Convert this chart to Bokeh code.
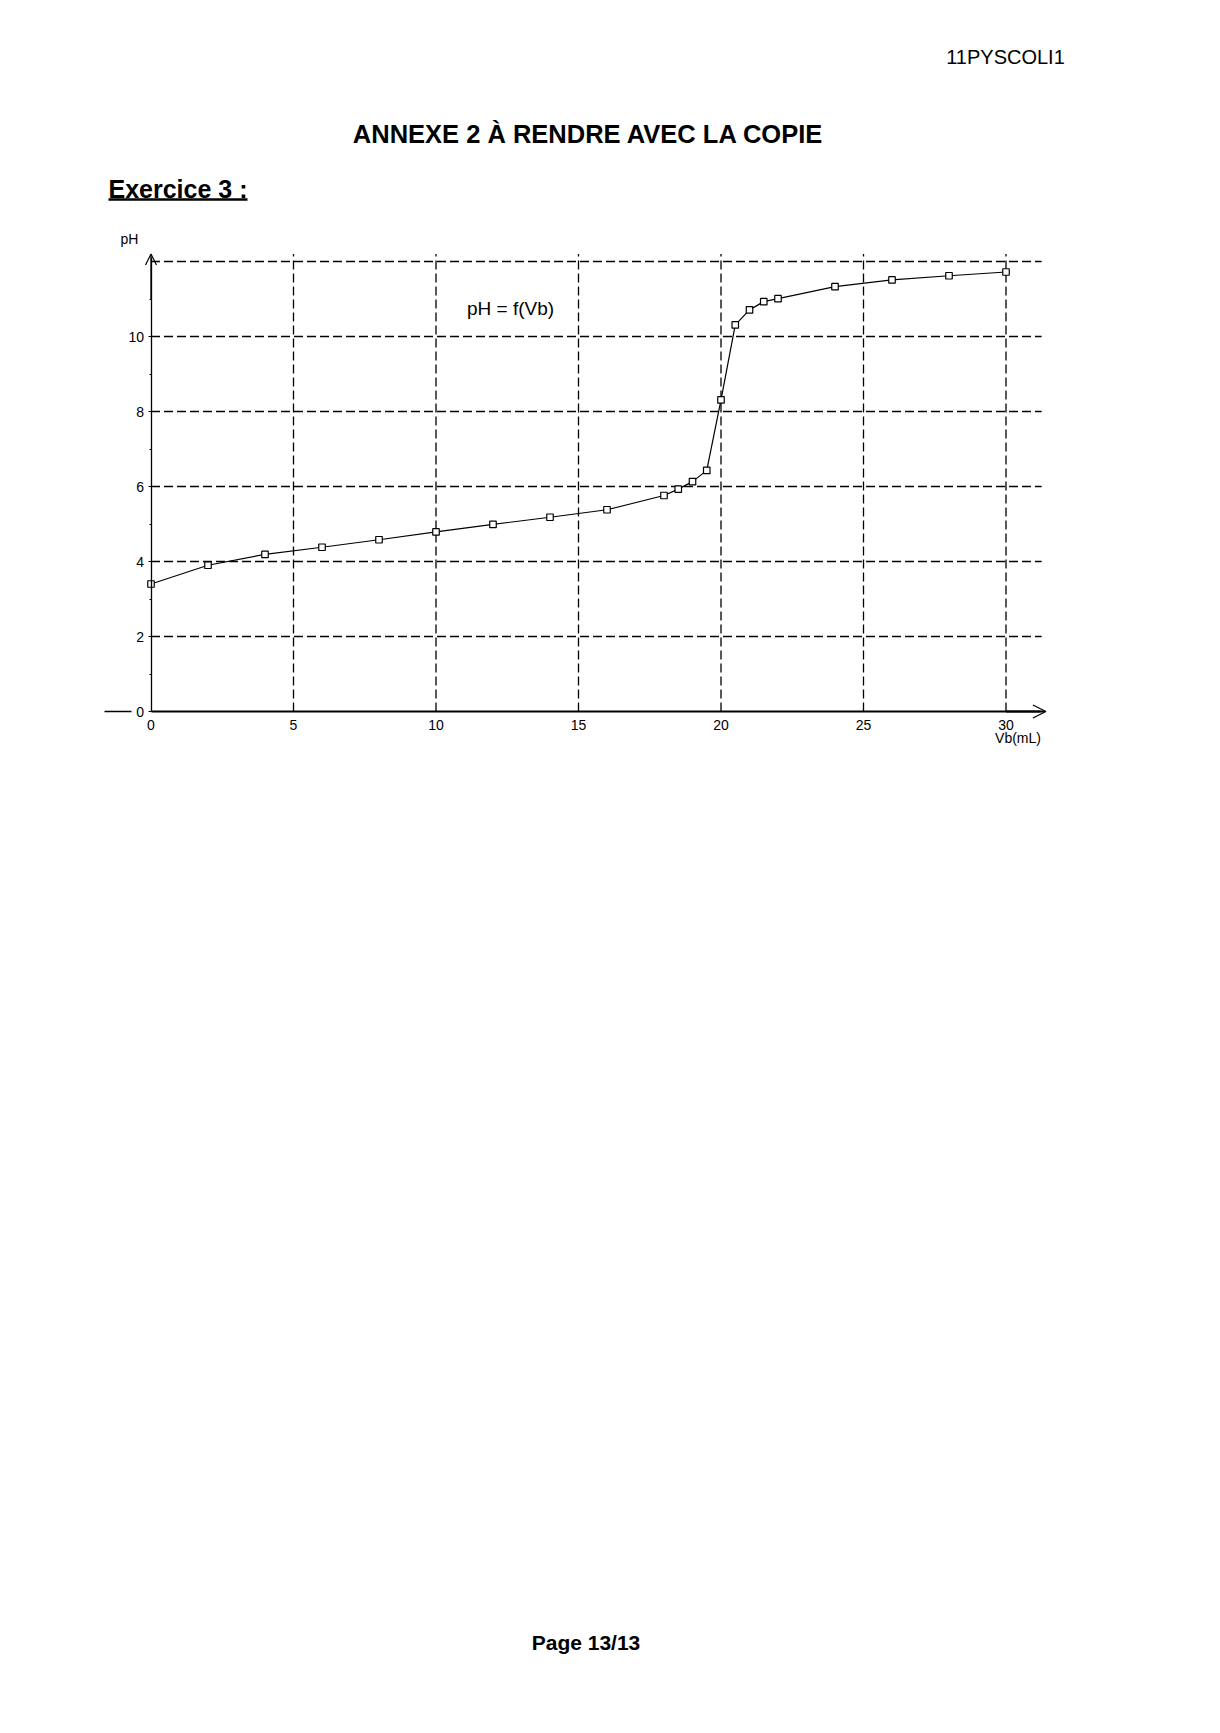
from bokeh.plotting import figure
from bokeh.models import Range1d, FixedTicker, Label, Arrow, OpenHead, LinearAxis
from bokeh.embed import file_html
from bokeh.resources import INLINE

# ---- data ----
vb = [0, 2, 4, 6, 8, 10, 12, 14, 16, 18, 18.5, 19, 19.5, 20, 20.5, 21, 21.5, 22, 24, 26, 28, 30]
ph = [3.40, 3.90, 4.19, 4.38, 4.58, 4.79, 4.99, 5.18, 5.38, 5.76, 5.93, 6.13, 6.43, 8.31,
      10.31, 10.71, 10.93, 11.01, 11.33, 11.51, 11.62, 11.72]
x_ticks = [0, 5, 10, 15, 20, 25, 30]
y_ticks = [0, 2, 4, 6, 8, 10]
x_grid = [5, 10, 15, 20, 25, 30]
y_grid = [2, 4, 6, 8, 10, 12]
y_minor = [1, 3, 5, 7, 9, 11]

FONT = "Liberation Sans"
W, H = 1204, 1717
# page layout: where the chart origin sits and its scale (pixels per unit)
X0, Y0, SX, SY = 150.5, 711.0, 28.5, 37.5
X_END, Y_END = 31.25, 12.2       # extent of grid
X_ARROW, Y_ARROW = 31.4, 12.2    # axis arrow tips


def dx(px):
    return (px - X0) / SX


def dy(py):
    return (Y0 - py) / SY


p = figure(width=W, height=H, output_backend="svg", toolbar_location=None,
           x_range=Range1d(dx(0), dx(W)), y_range=Range1d(dy(H), dy(0)),
           x_axis_location=None, y_axis_location=None,
           min_border=0, min_border_left=0, min_border_right=0,
           min_border_top=0, min_border_bottom=0)
p.outline_line_color = None
p.background_fill_color = "white"
p.border_fill_color = "white"
p.grid.visible = False

# grid (dashed), limited to the chart area
p.segment(x0=x_grid, y0=[0] * len(x_grid), x1=x_grid, y1=[Y_END] * len(x_grid),
          line_color="black", line_width=1.3, line_dash="9 4")
p.segment(x0=[0] * len(y_grid), y0=y_grid, x1=[X_END] * len(y_grid), y1=y_grid,
          line_color="black", line_width=1.3, line_dash="9 4")

# axes at fixed positions
xax = LinearAxis(fixed_location=0, bounds=(0, X_ARROW - 0.2),
                 ticker=FixedTicker(ticks=x_ticks))
yax = LinearAxis(fixed_location=0, bounds=(0, Y_ARROW - 0.1),
                 ticker=FixedTicker(ticks=y_ticks, minor_ticks=y_minor))
for ax in (xax, yax):
    ax.axis_line_color = "black"
    ax.major_label_text_font = FONT
    ax.major_label_text_font_size = "14px"
    ax.major_label_text_color = "black"
    ax.major_tick_line_color = "black"
    ax.minor_tick_line_color = "black"
xax.axis_line_width = 2
xax.major_tick_out = 0
xax.major_tick_in = 0
xax.minor_tick_out = 0
xax.minor_tick_in = 0
xax.major_label_standoff = 8
yax.axis_line_width = 1.3
yax.major_tick_out = 3
yax.major_tick_in = 0
yax.minor_tick_out = 2
yax.minor_tick_in = 0
yax.major_label_standoff = 4
p.add_layout(xax, "below")
p.add_layout(yax, "left")

# axis arrows and the short line left of the y axis at pH 0
p.add_layout(Arrow(end=OpenHead(size=13, line_width=1.3, line_color="black"),
                   x_start=30, y_start=0, x_end=X_ARROW, y_end=0,
                   line_color="black", line_width=2))
p.add_layout(Arrow(end=OpenHead(size=11, line_width=1.2, line_color="black"),
                   x_start=0, y_start=11, x_end=0, y_end=Y_ARROW,
                   line_color="black", line_width=1.3))
p.add_layout(Arrow(end=None, x_start=dx(104), y_start=0, x_end=dx(131), y_end=0,
                   line_color="black", line_width=1.3))

# data
p.line(vb, ph, line_color="black", line_width=1.2)
p.scatter(vb, ph, marker="square", size=6.5, fill_color="white",
          line_color="black", line_width=1.2)


def text_at(px, py, text, size, bold=False, align="center"):
    p.add_layout(Label(x=dx(px), y=dy(py), text=text, text_font=FONT,
                       text_font_size=size,
                       text_font_style="bold" if bold else "normal",
                       text_align=align, text_baseline="middle",
                       text_color="black"))


# chart texts
text_at(510, 308, "pH = f(Vb)", "19px")
text_at(1017.5, 737, "Vb(mL)", "14px")
text_at(129, 238, "pH", "14px")

# page texts
text_at(1005, 56, "11PYSCOLI1", "20px")
text_at(588, 133, "ANNEXE 2 À RENDRE AVEC LA COPIE", "25.5px", bold=True)
text_at(108, 188, "Exercice 3 :", "25px", bold=True, align="left")
text_at(585.5, 1642, "Page 13/13", "21px", bold=True)
p.add_layout(Arrow(end=None, x_start=dx(108), y_start=dy(199), x_end=dx(247),
                   y_end=dy(199), line_color="black", line_width=2.5))

open("out.html", "w").write(file_html(p, INLINE))
